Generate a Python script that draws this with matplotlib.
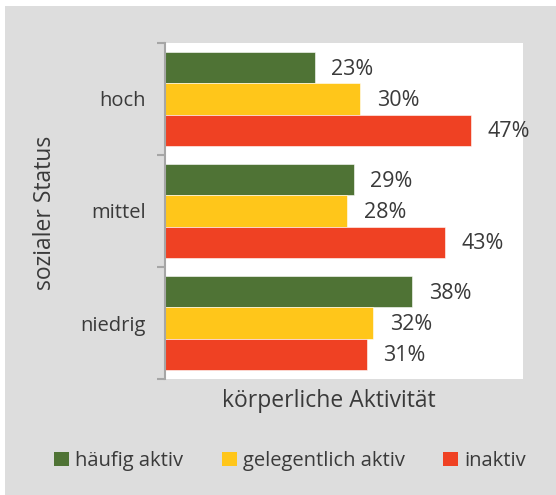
import matplotlib.pyplot as plt
from matplotlib.patches import Rectangle, Patch

status = ['hoch', 'mittel', 'niedrig']
haeufig = [23, 29, 38]
gelegentlich = [30, 28, 32]
inaktiv = [47, 43, 31]
series_names = ['häufig aktiv', 'gelegentlich aktiv', 'inaktiv']
colors = ['#4f7335', '#ffc61a', '#ef4123']

plt.rcParams['font.family'] = ['Open Sans', 'DejaVu Sans']
text_color = '#3a3a3a'

W, H = 556, 495
fig = plt.figure(figsize=(W / 100, H / 100), dpi=100, facecolor='white')
fig.patches.append(Rectangle((5 / W, 0), 1, 1 - 6 / H, transform=fig.transFigure,
                             facecolor='#dddddd', edgecolor='none', zorder=-5))

ax = fig.add_axes([165 / W, 1 - 379 / H, (523 - 165) / W, (379 - 43) / H])
ax.set_facecolor('white')

ypos = [2, 1, 0]
h = 0.277
offsets = [h, 0, -h]
for vals, off, col in zip([haeufig, gelegentlich, inaktiv], offsets, colors):
    ys = [y + off for y in ypos]
    bars = ax.barh(ys, vals, height=h, color=col, edgecolor='white', linewidth=0.4)
    for b, v in zip(bars, vals):
        ax.annotate(f'{v}%', (b.get_width(), b.get_y() + b.get_height() / 2),
                    xytext=(12, -1), textcoords='offset points', ha='left', va='center',
                    fontsize=15.5, color=text_color)

ax.set_xlim(0, 55)
ax.set_ylim(-0.5, 2.5)
ax.set_xticks([])
for s in ['top', 'right', 'bottom']:
    ax.spines[s].set_visible(False)
ax.spines['left'].set_color('#a6a6a6')
ax.spines['left'].set_linewidth(1.5)

ax.set_yticks([-0.5, 0.5, 1.5, 2.5])
ax.set_yticklabels([])
ax.tick_params(axis='y', which='major', length=6, width=1.5, color='#a6a6a6')
ax.set_yticks(ypos, minor=True)
ax.set_yticklabels(status, minor=True)
ax.tick_params(axis='y', which='minor', length=0, pad=14, labelsize=14.5, labelcolor=text_color)

fig.text(45 / W, 1 - 213 / H, 'sozialer Status', rotation=90, ha='center', va='center',
         fontsize=16.5, color=text_color)
fig.text(329 / W, 1 - 401 / H, 'körperliche Aktivität', ha='center', va='center',
         fontsize=16.5, color=text_color)

handles = [Patch(facecolor=c, edgecolor='none') for c in colors]
leg = fig.legend(handles, series_names, loc='center', bbox_to_anchor=(290 / W, 1 - 461 / H),
                 ncol=3, frameon=False, fontsize=14.5, handlelength=0.75, handleheight=0.75,
                 handletextpad=0.3, columnspacing=1.9, labelcolor=text_color)

fig.savefig('out.png', dpi=100, facecolor=fig.get_facecolor())
